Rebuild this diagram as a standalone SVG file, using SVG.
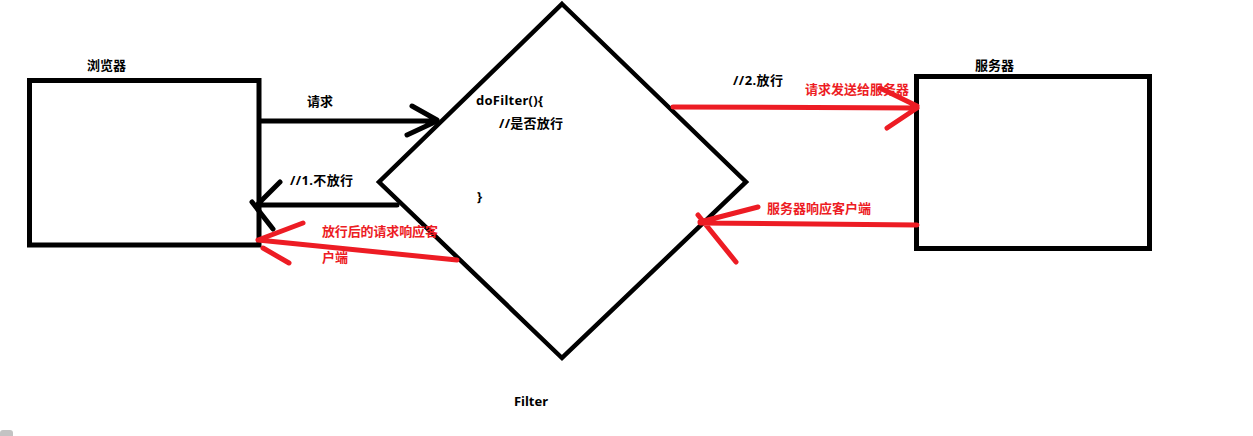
<svg xmlns="http://www.w3.org/2000/svg" width="1253" height="436" viewBox="0 0 1253 436">
<style>
.box{fill:#fff;stroke:#000;stroke-width:5}
.dia{fill:#fff;stroke:#000;stroke-width:4.5}
.blk{fill:none;stroke:#000;stroke-width:5;stroke-linecap:round}
.red{fill:none;stroke:#ED1C24;stroke-width:5;stroke-linecap:round}
.t{font-family:"Noto Sans","Noto Sans CJK SC",sans-serif;font-size:13px;font-weight:700;fill:#000}
.tr{font-family:"Noto Sans","Noto Sans CJK SC",sans-serif;font-size:13px;font-weight:700;fill:#ED1C24}
</style>
<rect width="1253" height="436" fill="#fff"/>
<g id="browser">
<rect class="box" x="29.5" y="80.5" width="229.5" height="164.5"/>
<text class="t" x="87" y="70" textLength="39">浏览器</text>
</g>
<g id="server">
<rect class="box" x="916.5" y="76.5" width="233" height="172"/>
<text class="t" x="975" y="70" textLength="39">服务器</text>
</g>
<g id="filter">
<polygon class="dia" points="562,4 746,182 562,358 379,182"/>
<text class="t" x="476" y="105" textLength="67">doFilter(){</text>
<text class="t" x="499" y="128" textLength="64">//是否放行</text>
<text class="t" x="477" y="201">}</text>
<text class="t" x="514" y="406" textLength="34">Filter</text>
</g>
<g id="connectors">
<path class="blk" d="M260,121 L437,121 M412,106 L437,120 M407,135 L437,121"/>
<text class="t" x="307" y="106" textLength="26">请求</text>
<path class="blk" d="M397,205 L259,205 M280,182 L258,204 M252,202 L273,229"/>
<text class="t" x="290" y="185" textLength="63">//1.不放行</text>
<path class="red" d="M457,260 L258,240 M303,223 L258,240 M263,248 L289,263"/>
<text class="tr" x="322" y="236" textLength="116">放行后的请求响应客</text>
<text class="tr" x="322" y="262" textLength="26">户端</text>
<path class="red" d="M673,107 L917,108 M880,88 L917,106 M887,128 L917,108"/>
<text class="t" x="733" y="85" textLength="50">//2.放行</text>
<text class="tr" x="805" y="94" textLength="104">请求发送给服务器</text>
<path class="red" d="M917,225 L700,223 M758,207 L700,222 M698,215 L736,262"/>
<text class="tr" x="767" y="213" textLength="104">服务器响应客户端</text>
</g>
<rect x="0" y="430" width="13" height="10" rx="3" fill="#c3c3c3"/>
</svg>
